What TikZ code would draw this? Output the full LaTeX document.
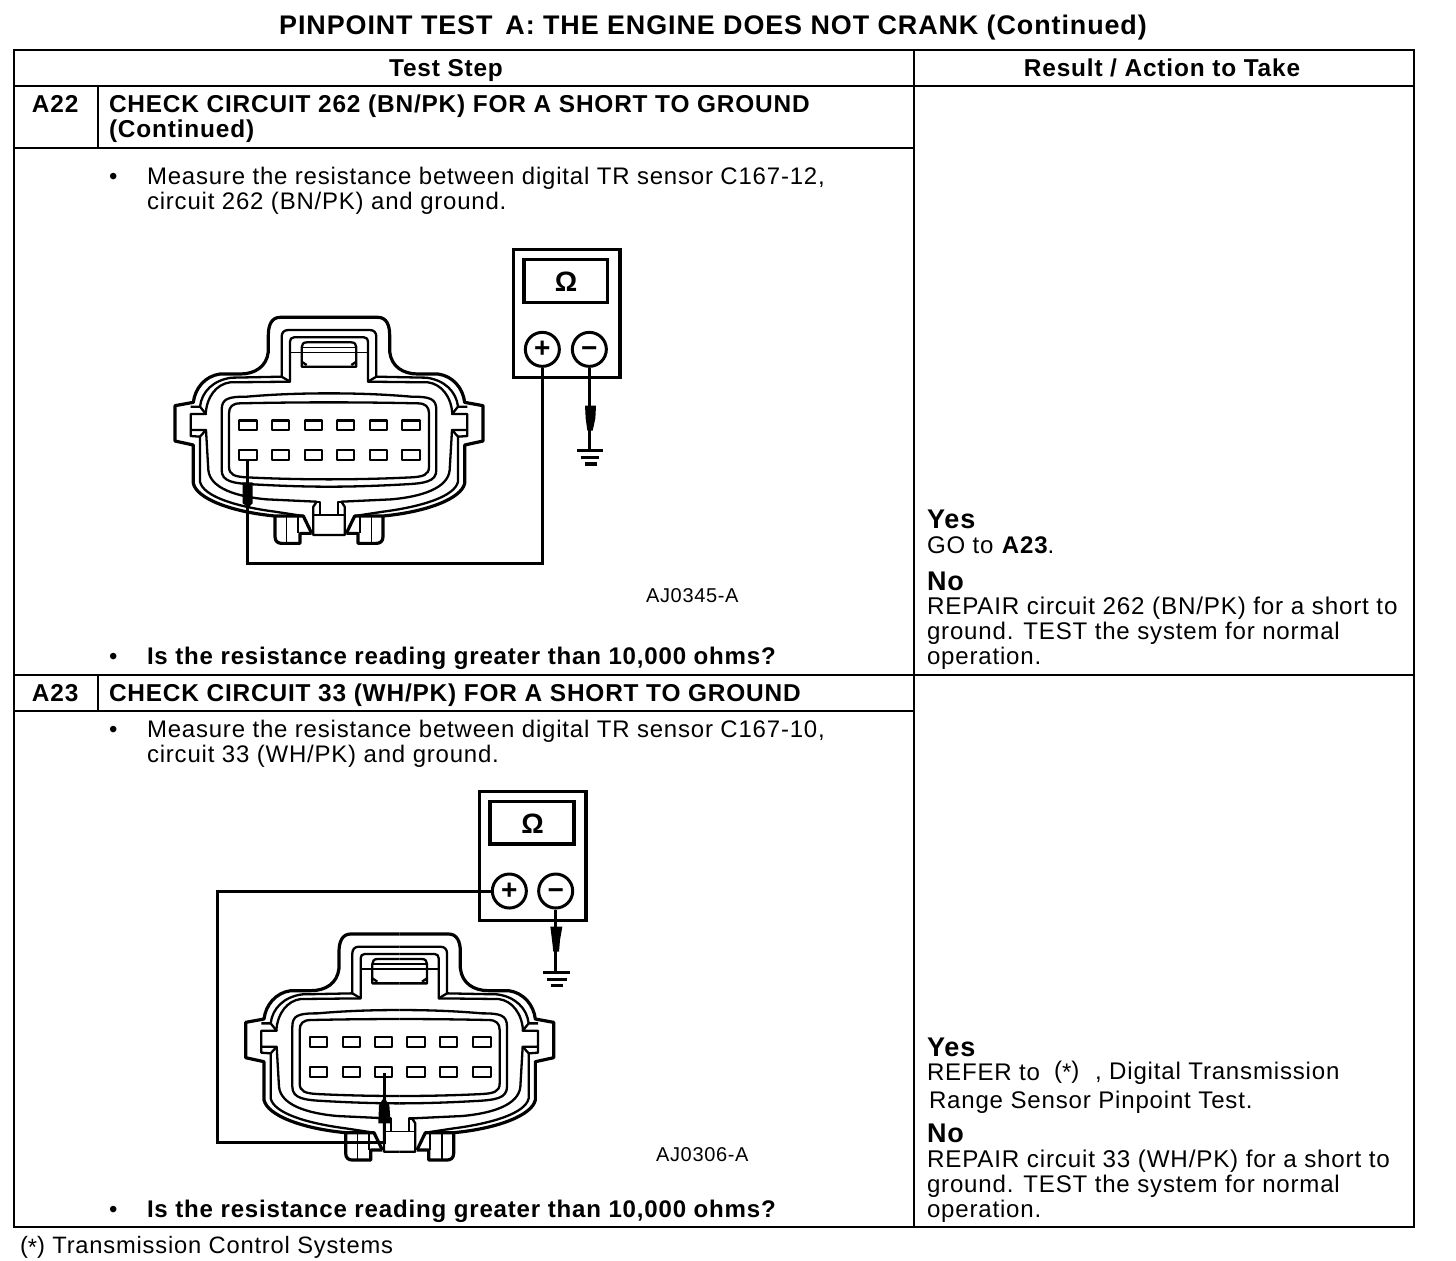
\documentclass[tikz,border=0pt]{standalone}
\usepackage{fontspec}
\setmainfont[LetterSpace=3.4]{Liberation Sans}
\newcommand{\fntbody}{\fontsize{11.98}{12.5}\selectfont}
\newcommand{\fntright}{\fontsize{12.02}{12.5}\selectfont}
\newcommand{\fntrepair}{\fontsize{12.1}{12.5}\selectfont}
\newcommand{\fntfoot}{\fontsize{11.85}{12.5}\selectfont}
\newcommand{\fnttitle}{\fontsize{13.45}{14}\selectfont\bfseries}
\newcommand{\fnthead}{\fontsize{12.2}{12.5}\selectfont\bfseries}
\newcommand{\fntques}{\fontsize{12.03}{12.5}\selectfont\bfseries}
\newcommand{\fntyes}{\fontsize{13.5}{14}\selectfont\bfseries}
\newcommand{\fntcode}{\fontsize{10}{10}\selectfont}
\newcommand{\astk}{\raisebox{-1pt}{*}}
\tikzset{
  tabline/.style={line width=1pt,line cap=rect},
  lbl/.style={anchor=base west,inner sep=0pt,outer sep=0pt},
  ctr/.style={anchor=base,inner sep=0pt,outer sep=0pt},
  conn/.style={line width=1.15pt,line join=round},
  connheavy/.style={line width=1.6pt,line join=round},
  connthin/.style={line width=.7pt},
  wire/.style={line width=1.5pt,line join=miter},
  meter/.style={line width=1.6pt},
  jack/.style={circle,draw,line width=1.5pt,minimum size=17pt,inner sep=0pt,fill=white,font=\fontsize{14}{14}\selectfont\bfseries},
  ohm/.style={inner sep=0pt,font=\fontsize{14}{14}\selectfont\bfseries},
}
\newcommand{\halfconn}{%
  \draw[connheavy] (507,232) -- (360,232) .. controls (335,232) and (325,255) .. (325,285) -- (325,335)
    .. controls (320,380) and (285,402) .. (240,402) -- (180,402)
    .. controls (135,408) and (105,445) .. (100,487) -- (45,497) -- (45,603) -- (100,615) -- (100,730)
    .. controls (110,775) and (210,815) .. (345,828) -- (430,828) -- (455,880);
  \draw[conn] (507,270) -- (385,270) .. controls (372,270) and (365,278) .. (365,290) -- (365,410)
    -- (215,413) .. controls (160,420) and (125,455) .. (120,500);
  \draw[conn] (390,425) -- (210,427) .. controls (170,432) and (140,470) .. (137,522);
  \draw[conn] (507,292) -- (402,292) .. controls (394,292) and (390,297) .. (390,305) -- (390,425) -- (365,410);
  \draw[conn] (92,500) -- (120,500) -- (138,522) -- (92,522) -- (92,588) -- (120,590) -- (138,570) -- (92,570);
  \draw[conn] (120,590) -- (120,725) .. controls (130,770) and (230,800) .. (345,815) -- (430,828);
  \draw[conn] (138,570) -- (145,690) .. controls (150,745) and (230,770) .. (320,778) -- (470,785) -- (460,800) -- (460,885) -- (507,885);
  \draw[conn] (470,785) -- (480,785) -- (480,825);
  \draw[connthin] (460,825) -- (507,825);
  \draw[conn] (507,460) .. controls (420,460) and (340,463) .. (260,470) .. controls (205,470) and (185,475) .. (185,510) -- (185,690)
    .. controls (185,725) and (220,730) .. (280,733) .. controls (350,737) and (430,740) .. (507,740);
  \draw[conn] (507,487) .. controls (420,487) and (330,488) .. (240,490) .. controls (218,490) and (207,500) .. (207,520) -- (207,680)
    .. controls (207,705) and (225,710) .. (260,712) .. controls (340,716) and (430,718) .. (507,718);
  \draw[connthin] (390,337) -- (507,337);
  \draw[conn] (507,307) -- (440,307) .. controls (430,307) and (425,313) .. (425,322) -- (425,380) .. controls (450,380) and (480,380) .. (507,380);
  \draw[connthin] (425,322) -- (507,322);
  \draw[conn] (425,365) -- (440,375);
  \draw[connheavy] (345,828) -- (345,890) .. controls (345,905) and (355,910) .. (365,910) -- (420,910) -- (420,880) -- (455,880);
  \draw[connthin] (380,828) -- (380,910);
  \draw[conn] (415,828) -- (415,880);
}
\newcommand{\fullconn}{%
  \halfconn
  \begin{scope}[shift={(1014,0)},xscale=-1]\halfconn\end{scope}
  \foreach \xa/\xb in {237/290,337/387,434/485,530/583,629/680,727/780}{
    \draw[conn] (\xa,541) rectangle (\xb,570);
    \draw[conn] (\xa,630) rectangle (\xb,660);
  }
}
\begin{document}
\begin{tikzpicture}[x=.5pt,y=-.5pt]
\useasboundingbox[fill=white] (0,0) rectangle (1456,1260);
\draw[tabline] (14,50) rectangle (1414,1227);
\draw[tabline] (914,50) -- (914,1227);
\draw[tabline] (14,86) -- (1414,86);
\draw[tabline] (14,675) -- (1414,675);
\draw[tabline] (98,86) -- (98,148);
\draw[tabline] (14,148) -- (914,148);
\draw[tabline] (98,675) -- (98,711);
\draw[tabline] (14,711) -- (914,711);
\node[ctr,font=\fnttitle] (title) at (713,34) {PINPOINT TEST\, A: THE ENGINE DOES NOT CRANK (Continued)};
\node[ctr,font=\fnthead] (hstep) at (446,76) {Test Step};
\node[ctr,font=\fnthead] (hres) at (1162,76) {Result / Action to Take};
\node[lbl,font=\fnthead] (a22) at (32,112) {A22};
\node[lbl,font=\fnthead] (a22t) at (109,112) {CHECK CIRCUIT 262 (BN/PK) FOR A SHORT TO GROUND};
\node[lbl,font=\fnthead] (a22c) at (109,137) {(Continued)};
\node[lbl,font=\fntbody] (b1) at (109,184) {•};
\node[lbl,font=\fntbody] (m1) at (147,184) {Measure the resistance between digital TR sensor C167-12,};
\node[lbl,font=\fntbody] (m2) at (147,209) {circuit 262 (BN/PK) and ground.};
\node[lbl,font=\fntcode] (c1) at (646,602) {AJ0345-A};
\node[lbl,font=\fntbody] (b2) at (109,664) {•};
\node[lbl,font=\fntques] (q1) at (147,664) {Is the resistance reading greater than 10,000 ohms?};
\node[lbl,font=\fntyes] (y1) at (927,528) {Yes};
\node[lbl,font=\fntright] (y1t) at (927,553) {GO to \textbf{A23}.};
\node[lbl,font=\fntyes] (n1) at (927,590) {No};
\node[lbl,font=\fntrepair] (n1a) at (927,614) {REPAIR circuit 262 (BN/PK) for a short to};
\node[lbl,font=\fntright] (n1b) at (927,639) {ground. TEST the system for normal};
\node[lbl,font=\fntright] (n1c) at (927,664) {operation.};
\node[lbl,font=\fnthead] (a23) at (32,701) {A23};
\node[lbl,font=\fnthead] (a23t) at (109,701) {CHECK CIRCUIT 33 (WH/PK) FOR A SHORT TO GROUND};
\node[lbl,font=\fntbody] (b3) at (109,737) {•};
\node[lbl,font=\fntbody] (m3) at (147,737) {Measure the resistance between digital TR sensor C167-10,};
\node[lbl,font=\fntbody] (m4) at (147,762) {circuit 33 (WH/PK) and ground.};
\node[lbl,font=\fntcode] (c2) at (656,1161) {AJ0306-A};
\node[lbl,font=\fntbody] (b4) at (109,1217) {•};
\node[lbl,font=\fntques] (q2) at (147,1217) {Is the resistance reading greater than 10,000 ohms?};
\node[lbl,font=\fntyes] (y2) at (927,1056) {Yes};
\node[lbl,font=\fntright] (y2a) at (927,1080) {REFER to};
\node[lbl,font=\fntright] (y2s) at (1054,1078) {(\astk)};
\node[lbl,font=\fntright] (y2b) at (1095,1079) {, Digital Transmission};
\node[lbl,font=\fntright] (y2c) at (929,1108) {Range Sensor Pinpoint Test.};
\node[lbl,font=\fntyes] (n2) at (927,1142) {No};
\node[lbl,font=\fntrepair] (n2a) at (927,1167) {REPAIR circuit 33 (WH/PK) for a short to};
\node[lbl,font=\fntright] (n2b) at (927,1192) {ground. TEST the system for normal};
\node[lbl,font=\fntright] (n2c) at (927,1217) {operation.};
\node[lbl,font=\fntfoot] (foot) at (20,1253) {(\astk) Transmission Control Systems};
\begin{scope}[shift={(160,240)},x=.16667pt,y=-.16667pt]
  \fullconn
  \draw[meter] (1060,28) rectangle (1380,412);
  \draw[meter] (1092,58) rectangle (1343,187);
  \node[ohm] (omA) at (1218,125) {Ω};
  \node[jack] (plusA) at (1147,328) {+};
  \node[jack] (minusA) at (1288,328) {\raisebox{-4pt}[0pt][0pt]{−}};
  \coordinate (pinA) at (262,660);
  \coordinate (cornerA) at (262,970);
  \coordinate (gndA) at (1288,632);
  \draw[wire] (pinA) |- (plusA.south |- cornerA) -- (plusA.south);
  \draw[wire] (minusA.south) -- (gndA);
  \fill (1275,497) -- (1308,497) -- (1306,535) -- (1298,572) -- (1282,572) -- (1277,535) -- cycle;
  \draw[meter] (1252,632) -- (1328,632);
  \draw[meter] (1262,652) -- (1318,652);
  \draw[meter] (1274,672) -- (1310,672);
  \fill (248,727) -- (278,727) -- (278,790) -- (265,802) -- (248,790) -- cycle;
\end{scope}
\begin{scope}[shift={(230.67,856.67)},x=.16667pt,y=-.16667pt]
  \fullconn
\end{scope}
\begin{scope}[shift={(210,780)},x=.16667pt,y=-.16667pt]
  \draw[meter] (808,35) rectangle (1128,422);
  \draw[meter] (840,65) rectangle (1092,192);
  \node[ohm] (omB) at (968,130) {Ω};
  \node[jack] (plusB) at (898,333) {+};
  \node[jack] (minusB) at (1037,333) {\raisebox{-4pt}[0pt][0pt]{−}};
  \coordinate (pinB) at (522,880);
  \coordinate (cornerB) at (22,1088);
  \coordinate (gndB) at (1037,578);
  \draw[wire] (plusB.west) -| (cornerB) -| (pinB);
  \draw[wire] (minusB.south) -- (gndB);
  \fill (1021,440) -- (1057,440) -- (1050,480) -- (1047,515) -- (1030,515) -- (1026,480) -- cycle;
  \draw[meter] (1000,578) -- (1080,578);
  \draw[meter] (1010,598) -- (1070,598);
  \draw[meter] (1022,617) -- (1058,617);
  \fill (522,952) -- (538,975) -- (542,1030) -- (505,1030) -- (507,975) -- cycle;
\end{scope}
\end{tikzpicture}
\end{document}
